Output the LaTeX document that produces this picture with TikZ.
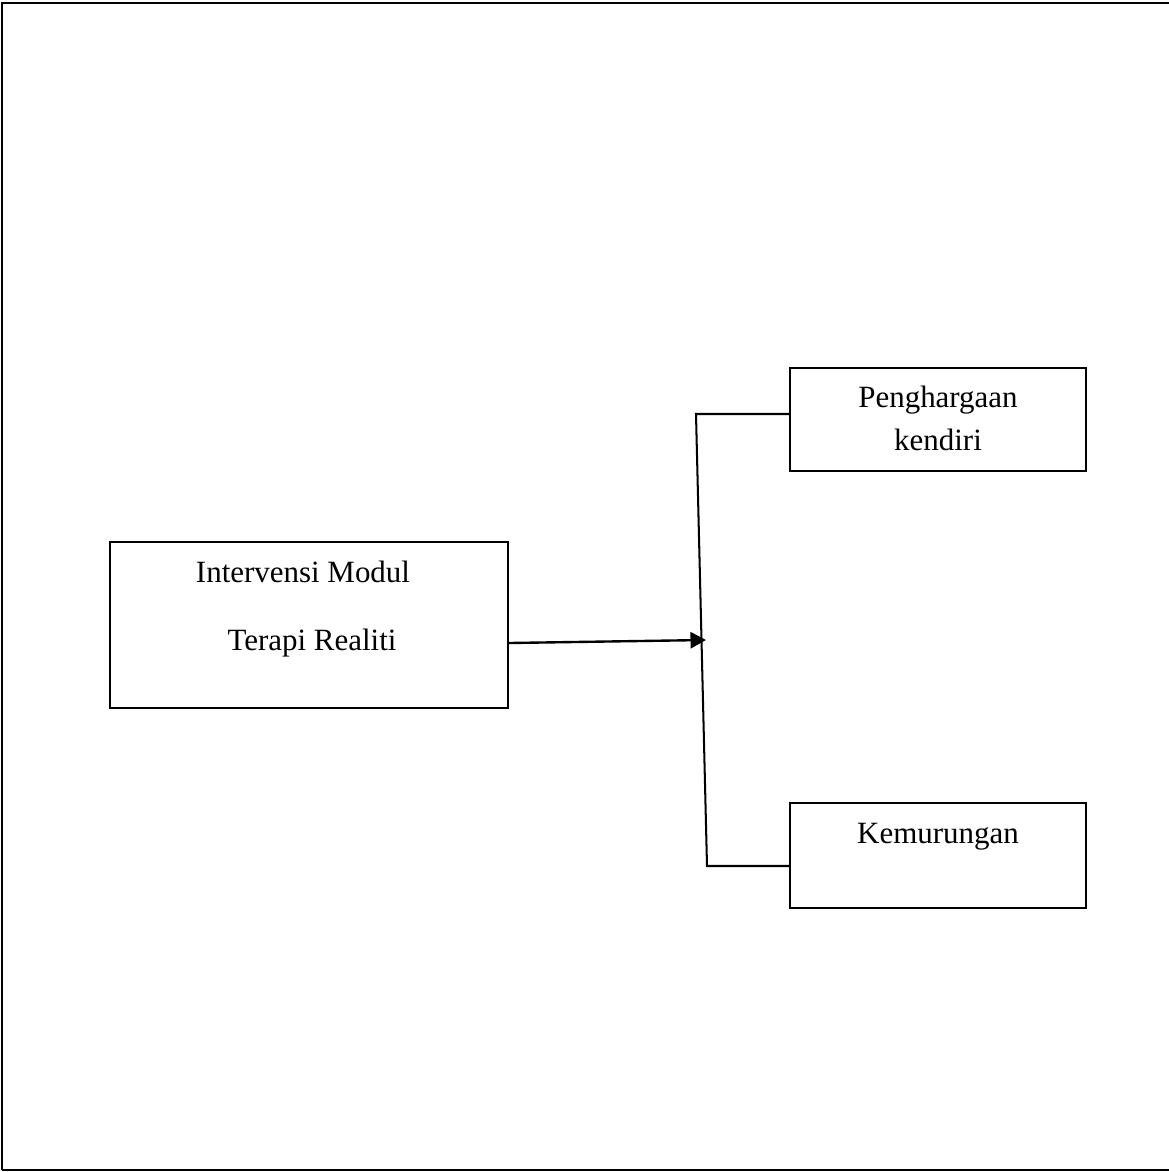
\documentclass[tikz,border=0pt]{standalone}
\usepackage{fontspec}
\setmainfont{Liberation Serif}
\usetikzlibrary{arrows.meta}
\begin{document}
\begin{tikzpicture}[
      x=0.42pt, y=-0.42pt,
      garis/.style={line width=0.85pt, draw=black},
      kotak/.style={rectangle, draw=black, line width=0.85pt,
        inner sep=0pt},
      teks/.style={anchor=base, inner sep=0pt,
        font=\fontsize{13}{15}\selectfont},
      panah/.style={line width=1pt, -{Triangle[length=6.5pt,width=6.8pt]}}
    ]
    \useasboundingbox (0,0) rectangle (1168,1172);
    \draw[line width=1.1pt] (2,1170) -- (2,3) -- (1180,3)
      (2,1170) -- (1180,1170);
    \path (309,625) node(iv) [kotak, minimum width=167.2pt, minimum height=69.7pt] {}
    (938,419.5) node(pk) [kotak, minimum width=124.3pt, minimum height=43.3pt] {}
    (938,855.5) node(km) [kotak, minimum width=124.3pt, minimum height=44.1pt] {};
    \node[teks] (iv1) at (303,582) {Intervensi Modul};
    \node[teks] (iv2) at (312,650) {Terapi Realiti};
    \node[teks] (pk1) at (938,407) {Penghargaan};
    \node[teks] (pk2) at (938,450) {kendiri};
    \node[teks] (km1) at (938,843) {Kemurungan};
    \coordinate (jt) at (696,414);
    \coordinate (jb) at (707,866);
    \coordinate (ja) at (706,640);
    \coordinate (as) at (iv.east |- 0,643);
    \draw[garis] (pk.west |- jt) -- (jt) -- (jb) -- (km.west |- jb);
    \draw[panah] (as) -- (ja);
  \end{tikzpicture}
\end{document}
